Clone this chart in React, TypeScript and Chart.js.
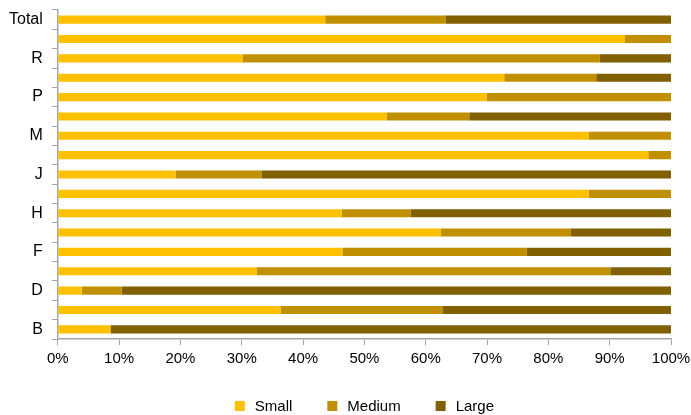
import React, { useEffect, useRef } from "react";
import { Chart, registerables } from "chart.js";

Chart.register(...registerables);

const categories = ["Total", "S", "R", "Q", "P", "N", "M", "L", "J", "I", "H", "G", "F", "E", "D", "C", "B"];
const small = [43.6, 92.5, 30.1, 72.8, 69.9, 53.6, 86.6, 96.3, 19.2, 86.6, 46.3, 62.4, 46.4, 32.4, 3.9, 36.3, 8.6];
const medium = [19.6, 7.5, 58.3, 15.0, 30.1, 13.5, 13.4, 3.7, 14.0, 13.4, 11.2, 21.3, 30.1, 57.7, 6.5, 26.4, 0];
const large = [36.8, 0, 11.6, 12.2, 0, 32.9, 0, 0, 66.8, 0, 42.5, 16.3, 23.5, 9.9, 89.6, 37.3, 91.7];
const seriesNames = ["Small", "Medium", "Large"];
const seriesColors = ["#FFC000", "#C09000", "#806000"];

const FONT = "'Liberation Sans', Arial, sans-serif";

const legendPlugin = {
  id: "customLegend",
  afterDraw(chart: any) {
    const ctx = chart.ctx;
    const area = chart.chartArea;
    ctx.save();
    ctx.font = `15px ${FONT}`;
    ctx.textBaseline = "middle";
    const box = 10;
    const gapText = 10;
    const gapItem = 35;
    const items = chart.data.datasets.map((d: any) => ({
      label: d.label,
      color: d.backgroundColor,
      w: box + gapText + ctx.measureText(d.label).width,
    }));
    const total = items.reduce((s: number, it: any) => s + it.w, 0) + gapItem * (items.length - 1);
    let x = (area.left + area.right) / 2 - total / 2;
    const y = chart.height - 9;
    for (const it of items) {
      ctx.fillStyle = it.color;
      ctx.fillRect(x, y - 5, box, box);
      ctx.fillStyle = "#000";
      ctx.fillText(it.label, x + box + gapText, y + 1);
      x += it.w + gapItem;
    }
    ctx.restore();
  },
};

export default function App() {
  const ref = useRef<HTMLCanvasElement>(null);
  useEffect(() => {
    document.body.style.margin = "0";
    const chart = new Chart(ref.current!, {
      type: "bar",
      data: {
        labels: categories,
        datasets: [small, medium, large].map((d, i) => ({
          label: seriesNames[i],
          data: d,
          backgroundColor: seriesColors[i],
          borderWidth: 0,
          barPercentage: 0.42,
          categoryPercentage: 1,
        })),
      },
      options: {
        indexAxis: "y",
        animation: false,
        responsive: false,
        maintainAspectRatio: false,
        layout: { padding: { top: 10, left: 0, right: 20, bottom: 42 } },
        plugins: { legend: { display: false }, tooltip: { enabled: false } },
        scales: {
          x: {
            stacked: true,
            min: 0,
            max: 100,
            afterFit: (s: any) => {
              s.paddingLeft = 0;
              s.paddingRight = 0;
            },
            ticks: {
              stepSize: 10,
              callback: (v: any) => `${v}%`,
              font: { family: FONT, size: 15 },
              color: "#000",
              padding: 5,
              maxRotation: 0,
            },
            grid: { drawOnChartArea: false, tickLength: 6, color: "#A6A6A6" },
            border: { color: "#A6A6A6", width: 1.5 },
          },
          y: {
            stacked: true,
            afterFit: (s: any) => {
              s.paddingTop = 0;
              s.paddingBottom = 0;
            },
            ticks: {
              autoSkip: false,
              callback: (_v: any, i: number) => (i % 2 === 0 ? categories[i] : ""),
              font: { family: FONT, size: 16 },
              color: "#000",
              padding: 9,
            },
            grid: { drawOnChartArea: false, tickLength: 6, color: "#A6A6A6", offset: true },
            border: { color: "#A6A6A6", width: 1.5 },
          },
        },
      },
      plugins: [legendPlugin],
    });
    return () => chart.destroy();
  }, []);
  return (
    <div style={{ width: 691, height: 415 }}>
      <canvas ref={ref} width={691} height={415} style={{ display: "block" }} />
    </div>
  );
}
